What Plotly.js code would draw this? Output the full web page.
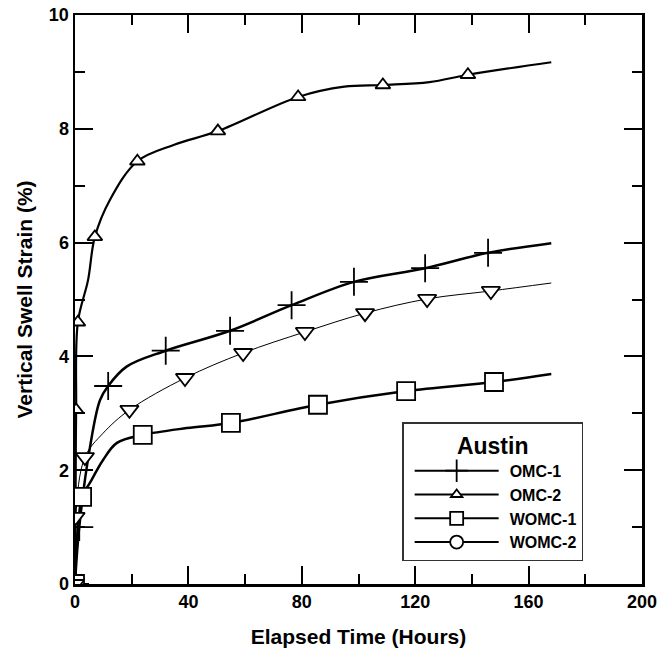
<!DOCTYPE html>
<html>
<head>
<meta charset="utf-8">
<script src="https://cdn.plot.ly/plotly-3.0.1.min.js"></script>
<style>html,body{margin:0;padding:0;background:#fff;}#chart{width:661px;height:661px;}</style>
</head>
<body>
<div id="chart"></div>
<script>
// ---- Data (x = elapsed hours, y = vertical swell strain %) ----
const seriesNames = ["OMC-1", "OMC-2", "WOMC-1", "WOMC-2"];
const legendSymbols = ["cross-thin", "triangle-up", "square", "circle"];

// marker points
const omc1Hours  = [0, 1.5, 11.7, 32, 54.7, 76.4, 98.4, 123.5, 145.7];
const omc1Strain = [0, 1.0, 3.48, 4.1, 4.45, 4.9, 5.31, 5.55, 5.82];
const omc2Hours  = [0, 0.2, 0.4, 1, 7, 22, 50.4, 78.7, 108.6, 138.6];
const omc2Strain = [0, 1.52, 3.06, 4.6, 6.1, 7.43, 7.96, 8.56, 8.77, 8.95];
const womc1Hours  = [0, 2.5, 23.9, 55, 85.7, 116.8, 147.8];
const womc1Strain = [0, 1.53, 2.62, 2.83, 3.15, 3.39, 3.55];
const womc2Hours  = [0, 0.2, 3.5, 19.2, 38.8, 59.3, 81.1, 102.3, 124.2, 146.7];
const womc2Strain = [0, 1.18, 2.23, 3.06, 3.62, 4.06, 4.43, 4.76, 5.01, 5.15];

// fitted curves
const omc1CurveHours  = [0, 1.5, 5.3, 8.8, 11.7, 18.2, 32, 54.7, 76.4, 98.4, 123.5, 145.7, 168];
const omc1CurveStrain = [0, 1.0, 2.41, 3.23, 3.48, 3.82, 4.1, 4.45, 4.9, 5.31, 5.55, 5.82, 5.99];
const omc2CurveHours  = [0, 0.2, 0.4, 1, 4.6, 7, 12.3, 22, 35, 50.4, 78.7, 95, 108.6, 125, 138.6, 168];
const omc2CurveStrain = [0, 1.52, 3.06, 4.6, 5.34, 6.1, 6.75, 7.43, 7.72, 7.96, 8.56, 8.74, 8.77, 8.82, 8.95, 9.17];
const womc1CurveHours  = [0, 2.5, 5.3, 9.9, 14.8, 23.9, 39.4, 55, 85.7, 116.8, 147.8, 168];
const womc1CurveStrain = [0, 1.53, 1.78, 2.18, 2.48, 2.62, 2.74, 2.83, 3.15, 3.39, 3.55, 3.69];
const womc2CurveHours  = [0, 0.2, 3.5, 9.9, 19.2, 38.8, 59.3, 81.1, 102.3, 124.2, 146.7, 168];
const womc2CurveStrain = [0, 1.18, 2.23, 2.65, 3.06, 3.62, 4.06, 4.43, 4.76, 5.01, 5.15, 5.29];

const xTickVals = [0, 40, 80, 120, 160, 200];
const yTickVals = [0, 2, 4, 6, 8, 10];

// ---- Traces ----
const FONT = "Arial, 'Liberation Sans', sans-serif";
const curves = [
  {x: omc1CurveHours,  y: omc1CurveStrain,  w: 2.5},
  {x: omc2CurveHours,  y: omc2CurveStrain,  w: 2.2},
  {x: womc1CurveHours, y: womc1CurveStrain, w: 2.5},
  {x: womc2CurveHours, y: womc2CurveStrain, w: 1}
];
const marks = [
  {x: omc1Hours,  y: omc1Strain,  sym: "cross-thin",    size: 20, fill: "#000"},
  {x: omc2Hours,  y: omc2Strain,  sym: "triangle-up",   size: 13, fill: "#fff"},
  {x: womc1Hours, y: womc1Strain, sym: "square",        size: 18, fill: "#fff"},
  {x: womc2Hours, y: womc2Strain, sym: "triangle-down", size: 16, fill: "#fff"}
];
const legendSizes = [16, 10, 13, 13];

const traces = [];
curves.forEach((c, i) => traces.push({
  x: c.x, y: c.y, type: "scatter", mode: "lines", showlegend: false, hoverinfo: "skip",
  line: {color: "#000", width: c.w, shape: "spline", smoothing: 1}
}));
marks.forEach((m, i) => traces.push({
  x: m.x, y: m.y, type: "scatter", mode: "markers", showlegend: false, name: seriesNames[i],
  marker: {symbol: m.sym, size: m.size, color: m.fill, line: {color: "#000", width: 1.8}}
}));
// legend key entries
seriesNames.forEach((n, i) => traces.push({
  x: [null], y: [null], type: "scatter", mode: "lines+markers", name: n,
  line: {color: "#000", width: 2},
  marker: {symbol: legendSymbols[i], size: legendSizes[i],
           color: legendSymbols[i] === "cross-thin" ? "#000" : "#fff",
           line: {color: "#000", width: 1.8}}
}));

const axisCommon = {
  showline: true, linecolor: "#000", linewidth: 2.5, mirror: "ticks",
  ticks: "inside", ticklen: 18, tickwidth: 2, tickcolor: "#000",
  showgrid: false, zeroline: false,
  tickfont: {family: FONT, size: 18, color: "#000", weight: "bold"}
};

const layout = {
  width: 661, height: 661,
  margin: {l: 75, r: 19, t: 15, b: 77},
  paper_bgcolor: "#fff", plot_bgcolor: "#fff",
  showlegend: true,
  xaxis: Object.assign({}, axisCommon, {
    range: [0, 200], tickvals: xTickVals,
    minor: {dtick: 20, ticks: "inside", ticklen: 10, tickwidth: 2, tickcolor: "#000"},
    title: {text: "Elapsed Time (Hours)", font: {family: FONT, size: 21, color: "#000", weight: "bold"}, standoff: 18}
  }),
  yaxis: Object.assign({}, axisCommon, {
    range: [0, 10], tickvals: yTickVals,
    minor: {dtick: 1, ticks: "inside", ticklen: 10, tickwidth: 2, tickcolor: "#000"},
    title: {text: "Vertical Swell Strain (%)", font: {family: FONT, size: 21, color: "#000", weight: "bold"}, standoff: 11}
  }),
  legend: {
    x: 0.577, y: 0.284, xanchor: "left", yanchor: "top",
    bgcolor: "#fff", bordercolor: "#333", borderwidth: 1.5,
    font: {family: FONT, size: 16, color: "#000", weight: "bold"},
    title: {text: "Austin", side: "top center", font: {family: FONT, size: 23, color: "#000", weight: "bold"}},
    tracegroupgap: 0, itemwidth: 96
  }
};

function stretchLegendKeys() {
  document.querySelectorAll("#chart .legend .traces").forEach(function (g) {
    g.querySelectorAll(".legendlines path").forEach(function (p) { p.setAttribute("d", "M11,0h84"); });
    g.querySelectorAll(".legendpoints path").forEach(function (p) { p.setAttribute("transform", "translate(53,0)"); });
  });
}

Plotly.newPlot("chart", traces, layout, {displayModeBar: false, staticPlot: true}).then(stretchLegendKeys);
</script>
</body>
</html>
